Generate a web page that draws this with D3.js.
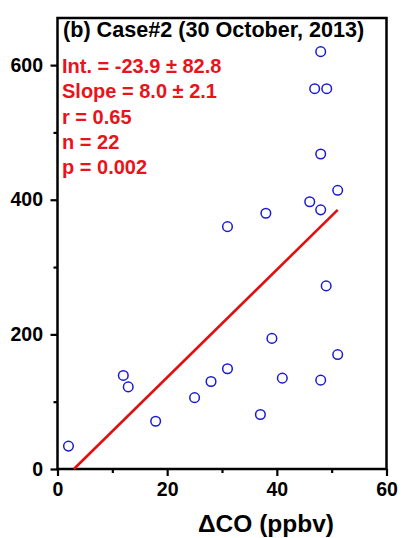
<!DOCTYPE html>
<html>
<head>
<meta charset="utf-8">
<script src="https://cdn.jsdelivr.net/npm/d3@7"></script>
<style>
  body { margin: 0; background: #fff; }
  svg text { font-family: "Liberation Sans", Arial, sans-serif; font-weight: bold; }
</style>
</head>
<body>
<div id="chart"></div>
<script>
// delta CO (ppbv) vs. y value
const coVals = [48.0, 46.9, 49.1, 48.0, 51.1, 46.0, 48.0, 38.0, 31.0, 49.0, 39.1,
                51.1, 12.0, 12.9, 31.0, 28.0, 25.0, 17.9, 41.0, 48.0, 37.0, 2.0];
const yVals  = [620, 565, 565, 468, 414, 397, 385, 380, 360, 272, 194,
                170, 139, 122, 149, 130, 106, 71, 135, 132, 81, 34];
const fitIntercept = -23.9;
const fitSlope = 8.0;
const xTicks = [0, 20, 40, 60];
const xMinor = [10, 30, 50];
const yTicks = [0, 200, 400, 600];
const yMinor = [100, 300, 500];
const title = "(b) Case#2 (30 October, 2013)";
const statLines = ["Int. = -23.9 \u00B1 82.8", "Slope = 8.0 \u00B1 2.1", "r = 0.65", "n = 22", "p = 0.002"];
const xLabel = "\u0394CO (ppbv)";

const w = 402, h = 538;
const padL = 57.5, padR = 386.5, padT = 18, padB = 469;

const svg = d3.select("#chart").append("svg")
  .attr("width", w).attr("height", h);

const xScale = d3.scaleLinear().domain([0, 60]).range([padL, padR]);
const yScale = d3.scaleLinear().domain([0, 670]).range([padB, padT]);

// frame
svg.append("rect")
  .attr("x", padL).attr("y", padT)
  .attr("width", padR - padL).attr("height", padB - padT)
  .attr("fill", "none").attr("stroke", "#000").attr("stroke-width", 2.5);

// axes
svg.append("g").attr("transform", "translate(0," + padB + ")")
  .call(d3.axisBottom(xScale).tickValues(xTicks).tickSize(7).tickPadding(6));
svg.append("g").attr("transform", "translate(0," + padB + ")")
  .call(d3.axisBottom(xScale).tickValues(xMinor).tickSize(4).tickFormat(""));
svg.append("g").attr("transform", "translate(" + padL + ",0)")
  .call(d3.axisLeft(yScale).tickValues(yTicks).tickSize(7).tickPadding(7.5));
svg.append("g").attr("transform", "translate(" + padL + ",0)")
  .call(d3.axisLeft(yScale).tickValues(yMinor).tickSize(4).tickFormat(""));

svg.selectAll(".domain").remove();
svg.selectAll(".tick line").attr("stroke", "#000").attr("stroke-width", 2.2);
svg.selectAll(".tick text").attr("fill", "#000")
  .style("font-size", "19.5px").style("font-family", "Liberation Sans, Arial, sans-serif")
  .style("font-weight", "bold");

// regression line
const x0 = -fitIntercept / fitSlope;
const x1 = d3.max(coVals);
svg.append("line")
  .attr("x1", xScale(x0)).attr("y1", yScale(fitIntercept + fitSlope * x0))
  .attr("x2", xScale(x1)).attr("y2", yScale(fitIntercept + fitSlope * x1))
  .attr("stroke", "#e01010").attr("stroke-width", 2.6);

// points
svg.selectAll("circle.pt")
  .data(coVals)
  .enter()
  .append("circle")
  .attr("class", "pt")
  .attr("cx", d => xScale(d))
  .attr("cy", (d, i) => yScale(yVals[i]))
  .attr("r", 4.8)
  .attr("fill", "none")
  .attr("stroke", "#1a1ad0")
  .attr("stroke-width", 1.5);

// title
svg.append("text")
  .attr("x", 63).attr("y", 37)
  .attr("fill", "#000").style("font-size", "21.6px")
  .text(title);

// stats
svg.selectAll("text.stat")
  .data(statLines)
  .enter()
  .append("text")
  .attr("class", "stat")
  .attr("x", 62)
  .attr("y", (d, i) => 73 + i * 25.3)
  .attr("fill", "#e8141c")
  .style("font-size", "20px")
  .text(d => d);

// x label
svg.append("text")
  .attr("x", 266).attr("y", 532)
  .attr("text-anchor", "middle")
  .attr("fill", "#000").style("font-size", "24.5px")
  .text(xLabel);
</script>
</body>
</html>
